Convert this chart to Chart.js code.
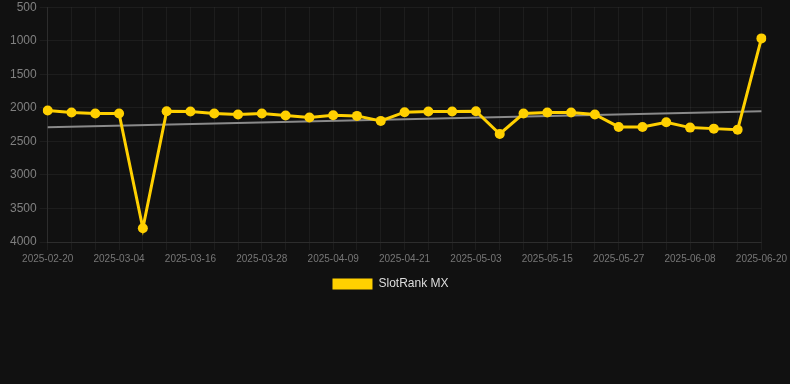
<!DOCTYPE html>
<html>
<head>
<meta charset="utf-8">
<script src="https://cdn.jsdelivr.net/npm/chart.js@4"></script>
<style>
  html, body { margin: 0; padding: 0; background: #111111; }
  #wrap { width: 790px; height: 384px; }
</style>
</head>
<body>
<div id="wrap"><canvas id="rankChart" width="790" height="300"></canvas></div>
<script>
// dates, every 4 days
const dates = [
  '2025-02-20', '2025-02-24', '2025-02-28', '2025-03-04', '2025-03-08', '2025-03-12',
  '2025-03-16', '2025-03-20', '2025-03-24', '2025-03-28', '2025-04-01', '2025-04-05',
  '2025-04-09', '2025-04-13', '2025-04-17', '2025-04-21', '2025-04-25', '2025-04-29',
  '2025-05-03', '2025-05-07', '2025-05-11', '2025-05-15', '2025-05-19', '2025-05-23',
  '2025-05-27', '2025-05-31', '2025-06-04', '2025-06-08', '2025-06-12', '2025-06-16',
  '2025-06-20'
]

// rank values (lower is better, axis reversed)
const rankMX = [
  2040, 2070, 2085, 2085, 3795, 2050, 2055, 2085, 2100, 2085, 2115, 2145,
  2110, 2120, 2195, 2065, 2055, 2055, 2050, 2390, 2085, 2070, 2070, 2100,
  2285, 2285, 2215, 2295, 2310, 2325, 965
]

// trend line, only the two ends
const trendStart = 2290
const trendEnd = 2050

const yTicks = { min: 500, max: 4000, step: 500 }

const trendData = dates.map((d, i) => {
  if (i === 0) return trendStart
  if (i === dates.length - 1) return trendEnd
  return null
})

// nudge legend a bit left, like the original
const legendShift = {
  id: 'legendShift',
  afterLayout(chart) {
    if (chart.legend) {
      chart.legend.left -= 6
      chart.legend.right -= 6
    }
  }
}

const ctx = document.getElementById('rankChart')

const chart = new Chart(ctx, {
  type: 'line',
  data: {
    labels: dates,
    datasets: [
      {
        label: 'SlotRank MX',
        data: rankMX,
        borderColor: '#FFD000',
        backgroundColor: '#FFD000',
        pointBackgroundColor: '#FFD000',
        pointBorderColor: '#FFD000',
        borderWidth: 3,
        pointRadius: 5,
        pointBorderWidth: 0,
        tension: 0
      },
      {
        label: 'trend',
        data: trendData,
        borderColor: '#8a8a8a',
        borderWidth: 2,
        pointRadius: 0,
        spanGaps: true,
        fill: false
      }
    ]
  },
  plugins: [legendShift],
  options: {
    responsive: false,
    animation: false,
    layout: {
      autoPadding: false,
      padding: { left: 7, right: 4, top: 0 }
    },
    plugins: {
      legend: {
        position: 'bottom',
        labels: {
          color: '#dddddd',
          boxWidth: 40,
          boxHeight: 11,
          font: { size: 12 },
          filter: item => item.text !== 'trend',
          generateLabels: function (chart) {
            const items = Chart.defaults.plugins.legend.labels.generateLabels(chart)
            items.forEach(it => { it.lineWidth = 0 })
            return items
          }
        }
      },
      tooltip: { enabled: false }
    },
    scales: {
      x: {
        grid: { color: 'rgba(255,255,255,0.05)' },
        border: { color: 'rgba(255,255,255,0.08)' },
        ticks: {
          color: '#777777',
          font: { size: 10 },
          maxRotation: 0,
          autoSkip: false,
          callback: function (val, index) {
            return index % 3 === 0 ? this.getLabelForValue(val) : ''
          }
        }
      },
      y: {
        reverse: true,
        min: yTicks.min,
        max: yTicks.max,
        grid: { color: 'rgba(255,255,255,0.05)' },
        border: { color: 'rgba(255,255,255,0.08)' },
        ticks: {
          stepSize: yTicks.step,
          color: '#808080',
          font: { size: 12, lineHeight: 0.7 },
          callback: val => String(val)
        }
      }
    }
  }
})
</script>
</body>
</html>
